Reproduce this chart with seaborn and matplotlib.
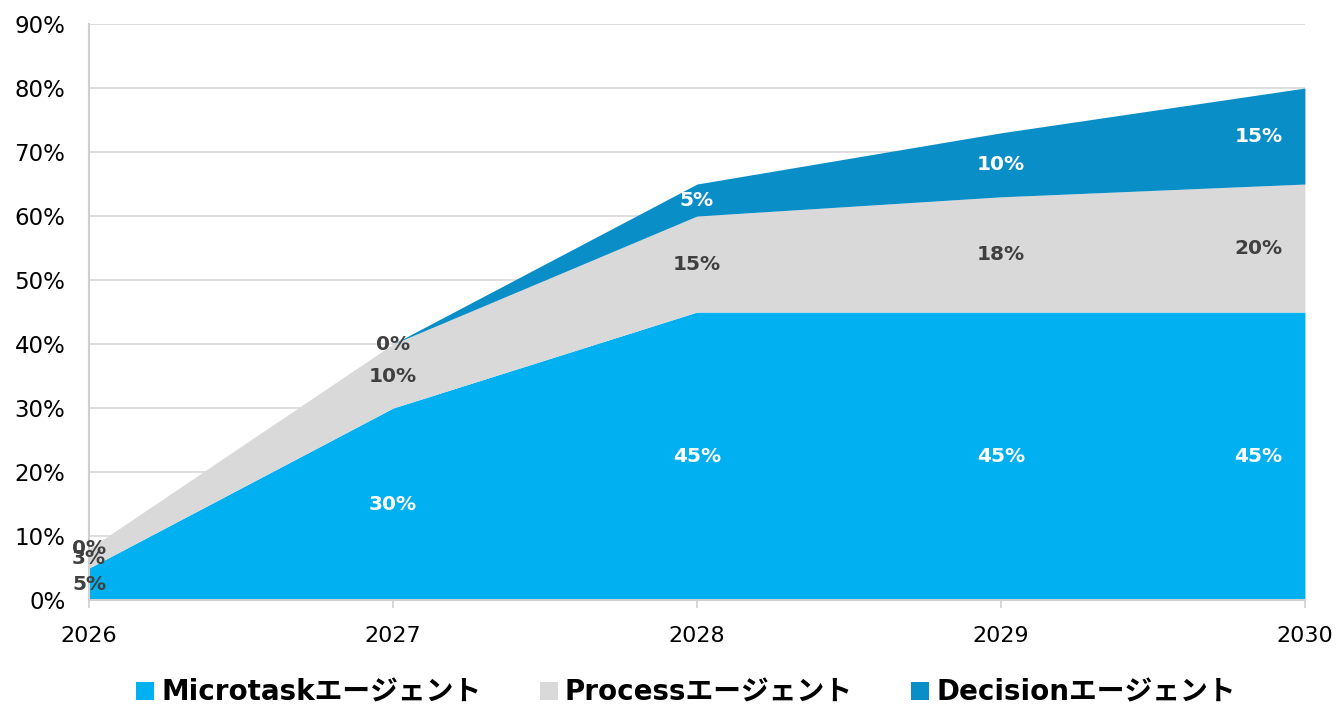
import matplotlib
matplotlib.use("Agg")
import matplotlib.pyplot as plt
from matplotlib.patches import Patch
import numpy as np
import seaborn as sns

years = [2026, 2027, 2028, 2029, 2030]
series_names = ["Microtaskエージェント", "Processエージェント", "Decisionエージェント"]
microtask = [5, 30, 45, 45, 45]
process = [3, 10, 15, 18, 20]
decision = [0, 0, 5, 10, 15]
y_ticks = [0, 10, 20, 30, 40, 50, 60, 70, 80, 90]

colors = ["#00B0F0", "#D9D9D9", "#0A8EC8"]
label_colors = [
    ["#404040", "#FFFFFF", "#FFFFFF", "#FFFFFF", "#FFFFFF"],
    ["#404040"] * 5,
    ["#404040", "#404040", "#FFFFFF", "#FFFFFF", "#FFFFFF"],
]

sns.set_theme(style="white")
plt.rcParams["font.family"] = ["DejaVu Sans", "Noto Sans CJK JP"]

fig = plt.figure(figsize=(13.37, 7.07), dpi=100)
ax = fig.add_axes([0.0666, 0.1513, 0.9094, 0.8147])

values = [microtask, process, decision]
ax.stackplot(years, *values, colors=colors, linewidth=0, zorder=2)

ax.set_xlim(years[0], years[-1])
ax.set_ylim(0, 90)
ax.set_yticks(y_ticks)
ax.set_yticklabels([f"{t}%" for t in y_ticks])
ax.set_xticks(years)
ax.set_xticklabels([str(y) for y in years])
ax.yaxis.grid(True, color="#D9D9D9", linewidth=1.2, zorder=0)
ax.set_axisbelow(True)

for side in ["top", "right"]:
    ax.spines[side].set_visible(False)
for side in ["left", "bottom"]:
    ax.spines[side].set_color("#D0D0D0")
    ax.spines[side].set_linewidth(1.5)

ax.tick_params(axis="x", which="major", length=6, width=1.2, color="#D0D0D0",
               labelsize=16, labelcolor="#000000", pad=13, direction="out", bottom=True)
ax.tick_params(axis="y", which="major", length=0, labelsize=16.5, labelcolor="#000000", pad=17)

# Value labels centred within each band; last column kept inside the plot
base = np.zeros(len(years))
last = len(years) - 1
for vals, lcols in zip(values, label_colors):
    vals = np.array(vals, dtype=float)
    for i, (x, v) in enumerate(zip(years, vals)):
        y = base[i] + v / 2
        ha = "right" if i == last else "center"
        dx = -16 if i == last else 0
        ax.annotate(f"{int(v)}%", xy=(x, y), xytext=(dx, 0), textcoords="offset points",
                    ha=ha, va="center", fontsize=14.5, fontweight="bold",
                    color=lcols[i], zorder=5, annotation_clip=False, clip_on=False)
    base += vals

handles = [Patch(facecolor=c, edgecolor="none") for c in colors]
leg = fig.legend(handles, series_names, loc="lower center", bbox_to_anchor=(0.513, -0.035),
                 ncol=3, frameon=False, handlelength=0.65, handleheight=0.65,
                 handletextpad=0.25, columnspacing=2.1, labelcolor="#000000",
                 prop={"family": ["DejaVu Sans", "Noto Sans CJK JP"], "weight": "bold", "size": 20})

fig.savefig("out.png", dpi=100)
